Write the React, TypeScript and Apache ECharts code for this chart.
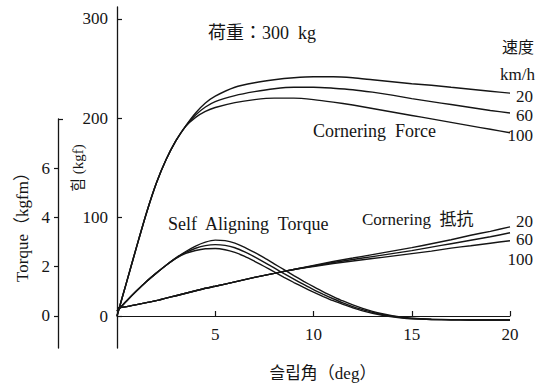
import React, { useEffect, useRef } from "react";
import * as echarts from "echarts";

// slip angle (deg)
const slipCF = [0, 0.5, 1, 1.5, 2, 2.5, 3, 3.5, 4, 4.5, 5, 6, 7, 8, 9, 10, 11, 12, 13, 14, 15, 16, 17, 18, 19, 20];
// Cornering Force (kgf)
const cf20 = [0, 35, 70, 104, 134, 158, 177, 192, 205, 215, 222, 231, 235.5, 238.5, 240.5, 241.5, 241.5, 240.5, 238.5, 236.5, 234.5, 233, 231, 229, 227, 225];
const cf60 = [0, 35, 70, 104, 134, 158, 177, 192, 203, 211, 216.5, 222.5, 226.5, 229.5, 231, 231, 230, 228.5, 226, 223, 219.5, 216.5, 213.5, 210.5, 207.5, 205];
const cf100 = [0, 35, 70, 104, 134, 158, 177, 191.5, 200.5, 206.5, 210.5, 215.5, 218.5, 220, 220, 218.5, 216, 213, 209.5, 206, 202.5, 199, 195.5, 192, 188.5, 185];
// Cornering 抵抗 (kgf)
const cr20 = [8, 9.5, 11.5, 13.5, 15.5, 18, 20.5, 23, 25.5, 28, 30, 34.5, 39, 43, 47, 51, 55, 58.5, 62, 65.5, 69, 73, 77, 81.5, 85.5, 90];
const cr60 = [8, 9.5, 11.5, 13.5, 15.5, 18, 20.5, 23, 25.5, 28, 30, 34.5, 39, 43, 47, 50.5, 54, 57, 60, 63, 66, 69.5, 73, 76.5, 80, 84];
const cr100 = [8, 9.5, 11.5, 13.5, 15.5, 18, 20.5, 23, 25.5, 28, 30, 34.5, 39, 43, 47, 50, 53, 55.5, 58, 60.5, 63, 65.5, 68.5, 71, 73.5, 76];
// Self Aligning Torque (kgfm)
const slipSAT = [0, 0.5, 1, 1.5, 2, 2.5, 3, 3.5, 4, 4.5, 5, 5.5, 6, 6.5, 7, 7.5, 8, 8.5, 9, 9.5, 10, 10.5, 11, 11.5, 12, 12.5, 13, 13.5, 14, 14.5, 15, 16, 17, 18, 19, 20];
const sat20 = [0.2, 0.62, 1.02, 1.4, 1.74, 2.06, 2.36, 2.62, 2.84, 3.0, 3.08, 3.06, 2.96, 2.79, 2.58, 2.36, 2.12, 1.88, 1.64, 1.41, 1.19, 0.98, 0.79, 0.61, 0.45, 0.31, 0.19, 0.09, 0.01, -0.05, -0.09, -0.13, -0.15, -0.16, -0.16, -0.16];
const sat60 = [0.2, 0.62, 1.02, 1.4, 1.74, 2.06, 2.35, 2.58, 2.75, 2.86, 2.9, 2.87, 2.77, 2.6, 2.4, 2.18, 1.95, 1.72, 1.5, 1.28, 1.07, 0.88, 0.7, 0.53, 0.38, 0.26, 0.15, 0.06, -0.01, -0.06, -0.1, -0.14, -0.15, -0.16, -0.16, -0.16];
const sat100 = [0.2, 0.62, 1.02, 1.4, 1.74, 2.06, 2.34, 2.54, 2.66, 2.73, 2.74, 2.69, 2.58, 2.42, 2.22, 2.01, 1.79, 1.57, 1.36, 1.16, 0.97, 0.79, 0.62, 0.47, 0.33, 0.21, 0.11, 0.03, -0.03, -0.08, -0.11, -0.14, -0.15, -0.16, -0.16, -0.16];

const speeds = ["20", "60", "100"];
const xTicks = [5, 10, 15, 20];
const forceTicks = [0, 100, 200, 300];
const torqueTicks = [0, 2, 4, 6];

const SERIF = "'Liberation Serif', 'DejaVu Serif', 'Noto Sans CJK JP', serif";
const JP = "'Liberation Serif', 'Noto Sans CJK JP', serif";
const KR = "'Liberation Serif', 'Noto Sans CJK KR', serif";
const INK = "#151515";

function pairs(xs: number[], ys: number[]) {
  return xs.map((x, i) => [x, ys[i]]);
}

export default function App() {
  const ref = useRef<HTMLDivElement>(null);
  useEffect(() => {
    if (!ref.current) return;
    const chart = echarts.init(ref.current, null, { renderer: "svg" });

    const lineStyle = { color: INK, width: 1.4 };
    const cfLabelOffsets = [3, 3, 3];
    const crLabelOffsets = [-5, 7, 19];
    const labelFont = { fontSize: 17, fontFamily: SERIF, color: INK };

    const cfSeries = [cf20, cf60, cf100].map((d, i) => ({
      type: "line",
      name: "CF " + speeds[i],
      xAxisIndex: 0,
      yAxisIndex: 0,
      data: pairs(slipCF, d),
      smooth: 0.25,
      showSymbol: false,
      clip: false,
      lineStyle,
      endLabel: {
        show: true,
        formatter: speeds[i],
        align: "right",
        distance: 23,
        offset: [0, cfLabelOffsets[i]],
        ...labelFont,
      },
    }));
    const crSeries = [cr20, cr60, cr100].map((d, i) => ({
      type: "line",
      name: "CR " + speeds[i],
      xAxisIndex: 0,
      yAxisIndex: 0,
      data: pairs(slipCF, d),
      smooth: 0.25,
      showSymbol: false,
      clip: false,
      lineStyle,
      endLabel: {
        show: true,
        formatter: speeds[i],
        align: "right",
        distance: 23,
        offset: [0, crLabelOffsets[i]],
        ...labelFont,
      },
    }));
    const satSeries = [sat20, sat60, sat100].map((d, i) => ({
      type: "line",
      name: "SAT " + speeds[i],
      xAxisIndex: 1,
      yAxisIndex: 1,
      data: pairs(slipSAT, d),
      smooth: 0.25,
      showSymbol: false,
      clip: false,
      lineStyle,
    }));

    const axisText = { fontSize: 17, fontFamily: SERIF, color: INK };
    const noSplit = { show: false };

    chart.setOption({
      animation: false,
      backgroundColor: "#ffffff",
      grid: [
        // data grid for force series: bottom edge = 0 kgf line
        { left: 117, right: 38, top: 7, bottom: 71 },
        // torque grid
        { left: 117, right: 38, top: 119, bottom: 39 },
        // force axis grid (extends below zero)
        { left: 117, right: 38, top: 7, bottom: 39 },
      ],
      xAxis: [
        {
          type: "value",
          gridIndex: 0,
          min: 0,
          max: 20,
          position: "bottom",
          axisLine: { show: true, onZero: false, lineStyle: { color: INK, width: 1 } },
          axisTick: { show: true, inside: true, length: 5, customValues: xTicks, lineStyle: { color: INK, width: 1.2 } },
          axisLabel: { show: true, customValues: xTicks, margin: 10, ...axisText },
          splitLine: noSplit,
        },
        { type: "value", gridIndex: 1, min: 0, max: 20, show: false },
        { type: "value", gridIndex: 2, min: 0, max: 20, show: false },
      ],
      yAxis: [
        { type: "value", gridIndex: 0, min: 0, max: 312, show: false },
        {
          type: "value",
          gridIndex: 1,
          min: -1.3,
          max: 8,
          position: "left",
          offset: 59,
          axisLine: { show: true, onZero: false, lineStyle: { color: INK, width: 1.3 } },
          axisTick: { show: true, inside: false, length: 4, customValues: torqueTicks, lineStyle: { color: INK, width: 1.2 } },
          axisLabel: { show: true, customValues: torqueTicks, margin: 8, ...axisText },
          splitLine: noSplit,
        },
        {
          type: "value",
          gridIndex: 1,
          min: -1.3,
          max: 8,
          position: "left",
          offset: 59,
          axisLine: { show: false, onZero: false },
          axisTick: { show: true, inside: true, length: 5, customValues: [8], lineStyle: { color: INK, width: 1.2 } },
          axisLabel: { show: false },
          splitLine: noSplit,
        },
        {
          type: "value",
          gridIndex: 2,
          min: -32,
          max: 312,
          position: "left",
          axisLine: { show: true, onZero: false, lineStyle: { color: INK, width: 1.3 } },
          axisTick: { show: true, inside: true, length: 5, customValues: forceTicks, lineStyle: { color: INK, width: 1.2 } },
          axisLabel: { show: true, customValues: forceTicks, margin: 9, ...axisText },
          splitLine: noSplit,
        },
      ],
      graphic: [
        {
          type: "text",
          x: 22,
          y: 223,
          rotation: Math.PI / 2,
          style: { text: "Torque（kgfm）", fontSize: 17, fontFamily: JP, fill: INK, textAlign: "center", textVerticalAlign: "middle" },
        },
        {
          type: "text",
          x: 78,
          y: 168,
          rotation: Math.PI / 2,
          style: { text: "힘 (kgf)", fontSize: 15, fontFamily: KR, fill: INK, textAlign: "center", textVerticalAlign: "middle" },
        },
        {
          type: "text",
          x: 323,
          y: 373,
          style: { text: "슬립角（deg）", fontSize: 17, fontFamily: KR, fill: INK, textAlign: "center", textVerticalAlign: "middle" },
        },
        {
          type: "text",
          x: 208,
          y: 33,
          style: { text: "荷重：300  kg", fontSize: 18, fontFamily: JP, fill: INK, textAlign: "left", textVerticalAlign: "middle" },
        },
        {
          type: "text",
          x: 534,
          y: 47,
          style: { text: "速度", fontSize: 16, fontFamily: JP, fill: INK, textAlign: "right", textVerticalAlign: "middle" },
        },
        {
          type: "text",
          x: 535,
          y: 74,
          style: { text: "km/h", fontSize: 17, fontFamily: SERIF, fill: INK, textAlign: "right", textVerticalAlign: "middle" },
        },
        {
          type: "text",
          x: 313,
          y: 131,
          style: { text: "Cornering  Force", fontSize: 18, fontFamily: SERIF, fill: INK, textAlign: "left", textVerticalAlign: "middle" },
        },
        {
          type: "text",
          x: 168,
          y: 224,
          style: { text: "Self  Aligning  Torque", fontSize: 18, fontFamily: SERIF, fill: INK, textAlign: "left", textVerticalAlign: "middle" },
        },
        {
          type: "text",
          x: 362,
          y: 219,
          style: { text: "Cornering  抵抗", fontSize: 17, fontFamily: JP, fill: INK, textAlign: "left", textVerticalAlign: "middle" },
        },
      ],
      series: [...cfSeries, ...crSeries, ...satSeries],
    });
    return () => chart.dispose();
  }, []);

  return (
    <div
      ref={ref}
      style={{ position: "absolute", left: 0, top: 0, width: 548, height: 387, background: "#fff" }}
    />
  );
}
